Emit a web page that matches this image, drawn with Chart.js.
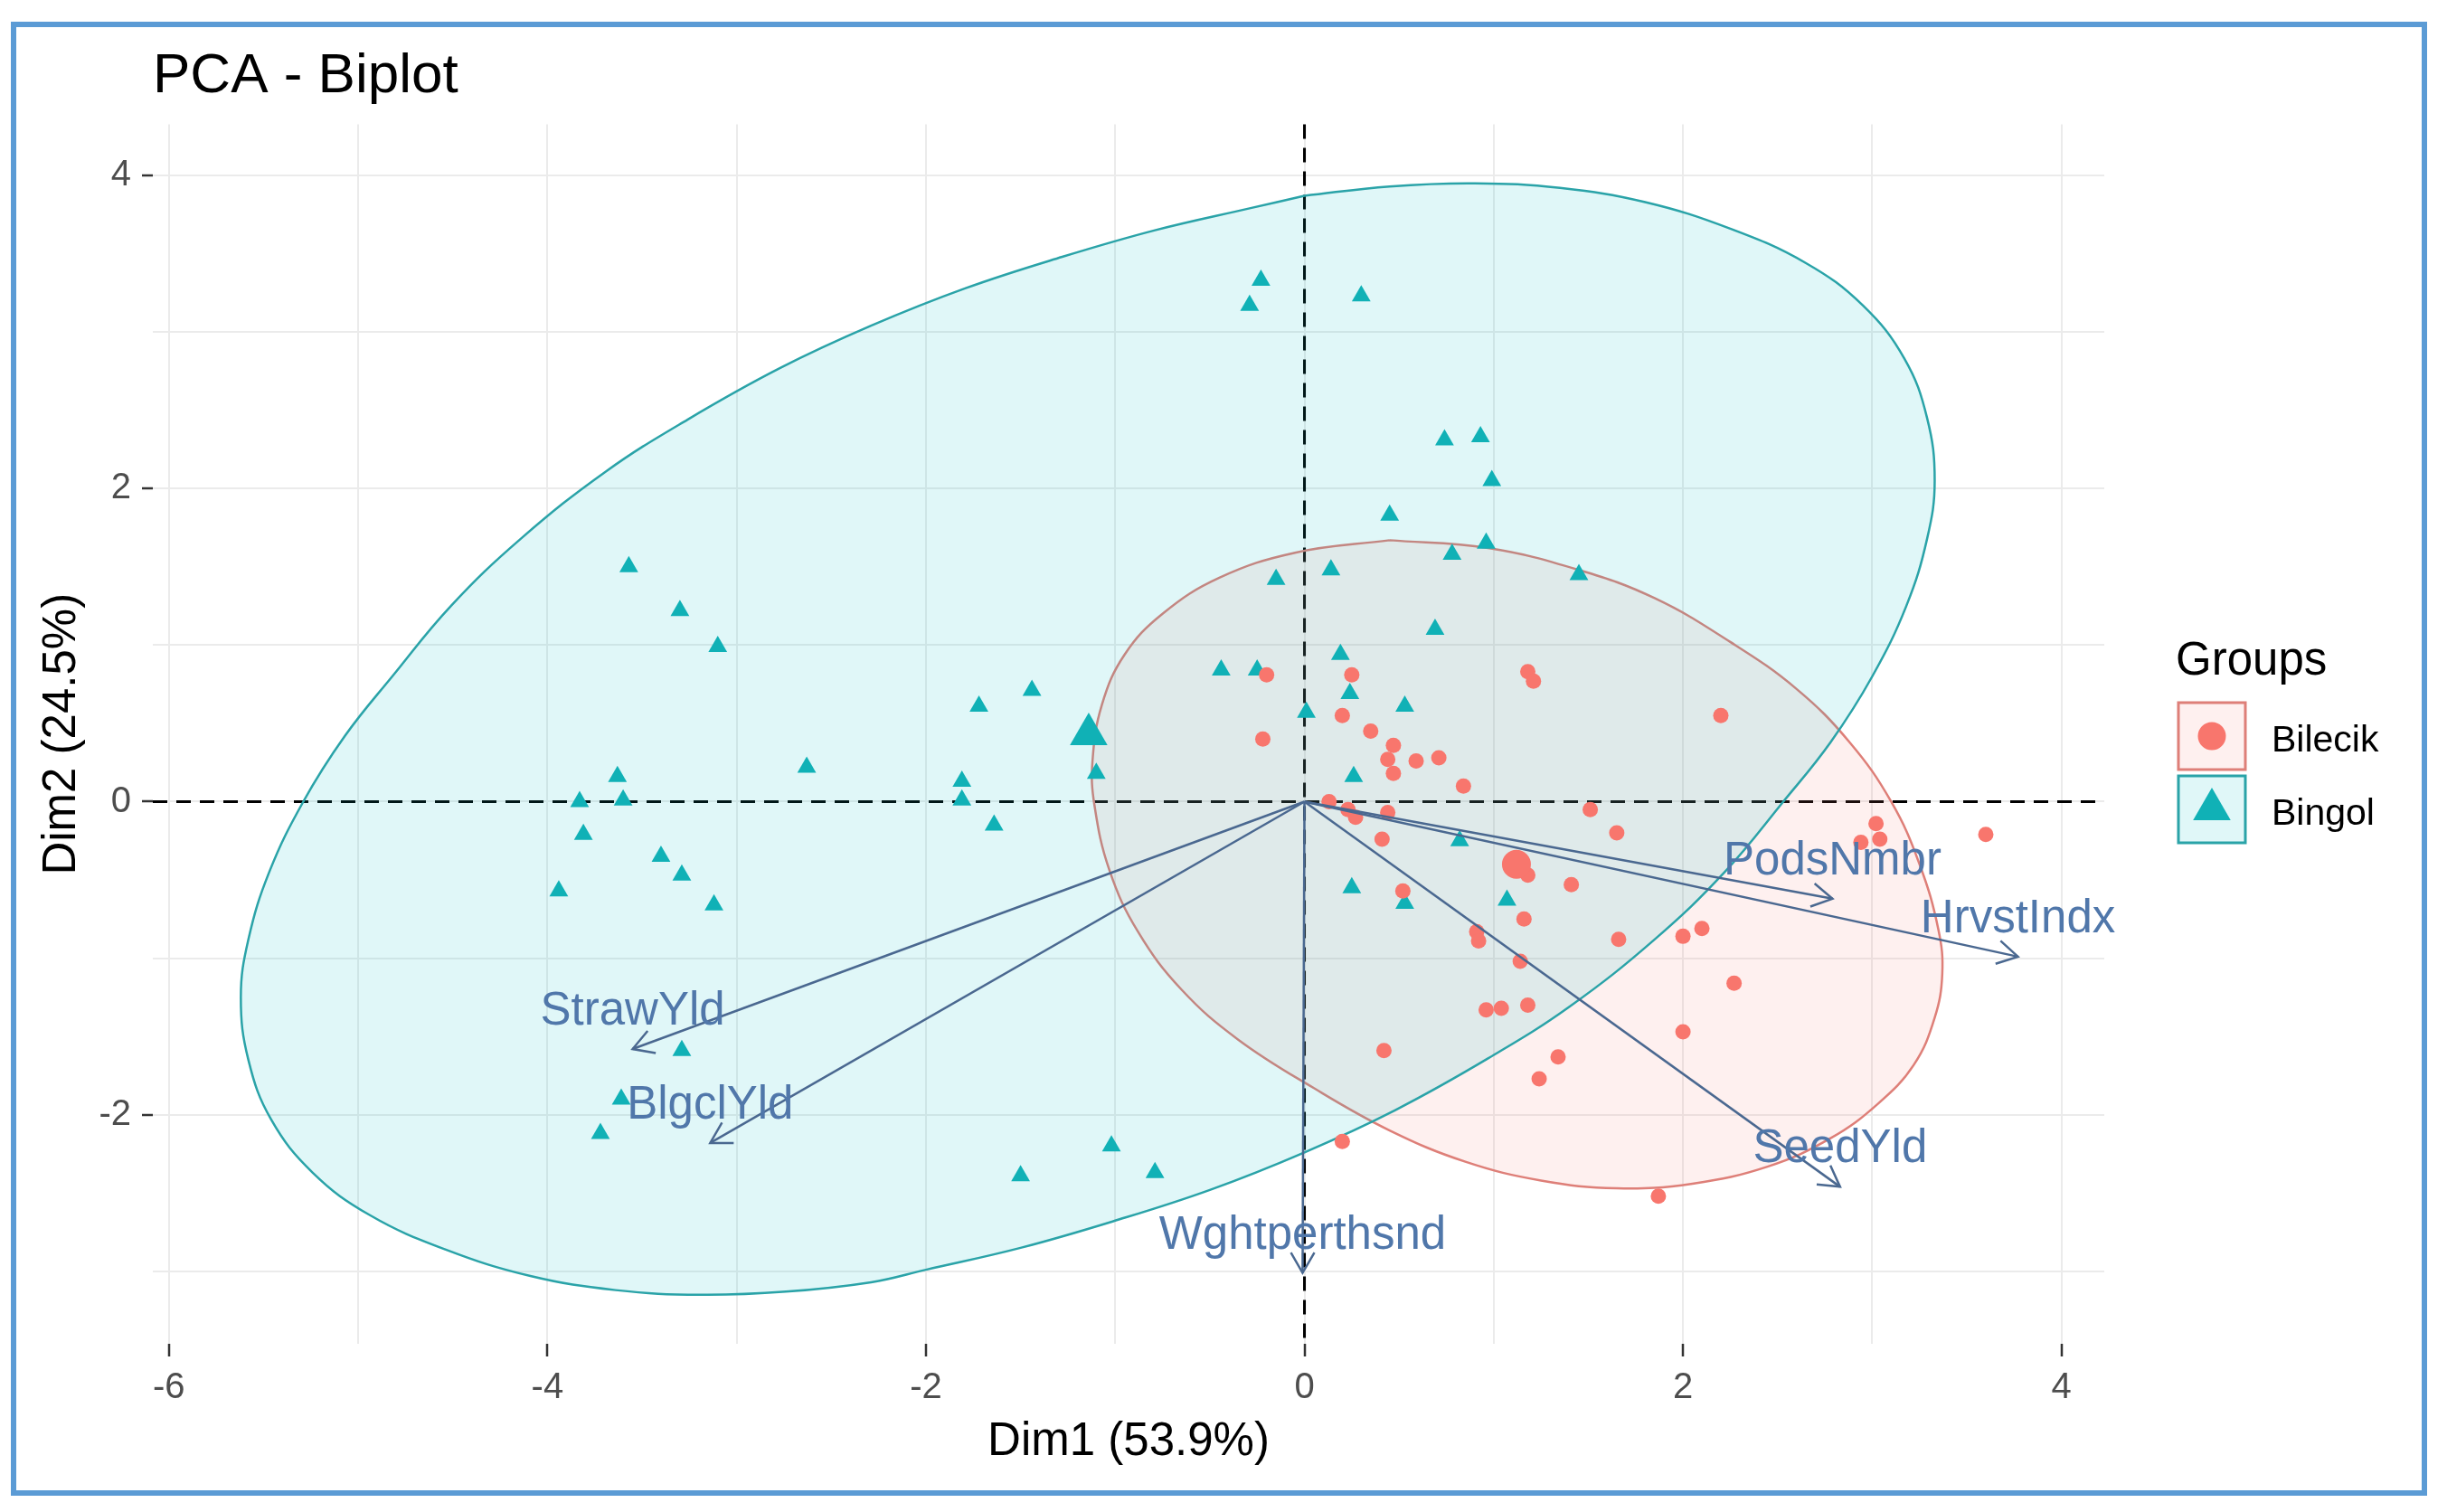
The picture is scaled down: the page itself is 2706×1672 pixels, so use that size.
<!DOCTYPE html>
<html>
<head>
<meta charset="utf-8">
<title>PCA - Biplot</title>
<script src="https://cdn.jsdelivr.net/npm/chart.js@4.4.1/dist/chart.umd.min.js"></script>
<style>
  html, body { margin: 0; padding: 0; background: #fff; overflow: hidden; }
  #wrap { position: relative; width: 2706px; height: 1672px; }
  #frame { position: absolute; left: 12px; top: 24px; width: 2672px; height: 1630px;
           border: 6px solid #5B9BD5; box-sizing: border-box; pointer-events: none; }
</style>
</head>
<body>
<div id="wrap">
  <canvas id="biplot"></canvas>
  <div id="frame"></div>
</div>
<script>
// --- データ ---
const groupNames = ["Bilecik", "Bingol"];

const bilecikX = [-0.20, 0.25, 1.18, 1.21, 0.20, -0.22, 0.35, 0.47, 0.44, 0.47, 0.59, 0.71, 0.84, 0.13, 0.23,
  0.27, 0.44, 0.41, 1.51, 1.65, 1.18, 1.41, 0.52, 1.16, 0.91, 0.92, 1.66, 1.14, 0.96, 1.04, 1.18,
  2.20, 3.02, 3.04, 2.94, 3.60, 2.00, 2.10, 2.27, 2.00, 1.87, 0.42, 1.34, 1.24, 0.20];
const bilecikY = [0.81, 0.81, 0.83, 0.77, 0.55, 0.40, 0.45, 0.36, 0.27, 0.18, 0.26, 0.28, 0.10, 0.00, -0.05,
  -0.10, -0.07, -0.24, -0.05, -0.20, -0.47, -0.53, -0.57, -0.75, -0.83, -0.89, -0.88, -1.02, -1.33, -1.32, -1.30,
  0.55, -0.14, -0.24, -0.26, -0.21, -0.86, -0.81, -1.16, -1.47, -2.52, -1.59, -1.63, -1.77, -2.17];

const bingolX = [-0.23, -0.29, 0.30, 0.74, 0.93, 0.99, 0.45, 0.96, 0.78, 1.45, -0.15, 0.14, 0.69, 0.19, -0.44,
  -0.25, 0.24, 0.53, 0.01, -1.44, -1.72, -1.10, -1.81, -1.81, -1.64, 0.26, 0.82, 0.25, 0.53, 1.07,
  -3.57, -3.30, -3.10, -2.63, -3.63, -3.83, -3.60, -3.81, -3.40, -3.29, -3.94, -3.12, -3.29, -3.61, -3.72,
  -1.02, -1.50, -0.79];
const bingolY = [3.33, 3.17, 3.23, 2.31, 2.33, 2.05, 1.83, 1.65, 1.58, 1.45, 1.42, 1.48, 1.10, 0.94, 0.84,
  0.84, 0.69, 0.61, 0.57, 0.71, 0.61, 0.18, 0.13, 0.01, -0.15, 0.16, -0.25, -0.55, -0.65, -0.63,
  1.50, 1.22, 0.99, 0.22, 0.16, 0.00, 0.01, -0.21, -0.35, -0.47, -0.57, -0.66, -1.59, -1.90, -2.12,
  -2.20, -2.39, -2.37];

// グループ平均 (大きいマーカー)
const meanX = [1.12, -1.14];
const meanY = [-0.40, 0.43];

// 変数ベクトル
const varNames = ["PodsNmbr", "HrvstIndx", "SeedYld", "Wghtperthsnd", "StrawYld", "BlgclYld"];
const varX = [2.79, 3.77, 2.83, -0.01, -3.55, -3.14];
const varY = [-0.62, -0.99, -2.46, -3.01, -1.58, -2.18];

// 楕円の輪郭 (画像からなぞった点, 時計回り)
const bilecikEllX = [0.45, 0.97, 1.45, 1.85, 2.25, 2.60, 2.88, 3.10, 3.25, 3.35, 3.37, 3.33, 3.22, 3.03, 2.78,
  2.45, 2.05, 1.65, 1.25, 0.85, 0.45, 0.05, -0.35, -0.65, -0.88, -1.03, -1.11, -1.12, -1.07, -0.95, -0.75,
  -0.45, -0.05];
const bilecikEllY = [1.67, 1.62, 1.48, 1.30, 1.02, 0.72, 0.38, 0.00, -0.40, -0.82, -1.10, -1.38, -1.68, -1.93, -2.15,
  -2.33, -2.44, -2.47, -2.42, -2.30, -2.10, -1.83, -1.52, -1.20, -0.83, -0.44, -0.02, 0.26, 0.62, 0.94, 1.20,
  1.43, 1.59];

const bingolEllX = [0.00, 0.45, 0.90, 1.35, 1.80, 2.25, 2.65, 2.95, 3.17, 3.29, 3.33, 3.29, 3.18, 3.00, 2.78,
  2.53, 2.22, 1.85, 1.40, 0.97, 0.48, 0.00, -0.50, -1.01, -1.50, -2.00, -2.29, -2.74, -3.19, -3.64,
  -4.09, -4.54, -4.94, -5.24, -5.46, -5.58, -5.62, -5.58, -5.47, -5.29, -5.07, -4.82, -4.51, -4.14, -3.69,
  -3.26, -2.77, -2.29, -1.79, -1.28, -0.79, -0.29];
const bingolEllY = [3.87, 3.93, 3.95, 3.92, 3.83, 3.66, 3.44, 3.17, 2.83, 2.45, 2.05, 1.68, 1.25, 0.80, 0.38,
  0.00, -0.45, -0.88, -1.31, -1.64, -1.97, -2.24, -2.48, -2.68, -2.85, -2.99, -3.07, -3.13, -3.15, -3.12,
  -3.03, -2.86, -2.64, -2.37, -2.03, -1.65, -1.25, -0.88, -0.45, 0.00, 0.42, 0.80, 1.25, 1.68, 2.11,
  2.44, 2.77, 3.04, 3.28, 3.48, 3.65, 3.79];

// --- スタイル ---
const FONT = "'Liberation Sans', Arial, sans-serif";
const RED = "#F8766D";
const TEAL = "#10B1B6";
const ARROW_COL = "#4A6890";
const LABEL_COL = "#5077AA";
const groupColors = [RED, TEAL];
const groupLines = ["#DE7F78", "#2AA3A8"];
const groupFills = ["rgba(248,118,109,0.11)", "rgba(0,191,196,0.12)"];

const toPts = (xs, ys) => xs.map((x, i) => ({ x: x, y: ys[i] }));

function ellipseSet(xs, ys, g, order) {
  const pts = toPts(xs, ys);
  pts.push(pts[0]);
  return {
    type: "line", data: pts, borderColor: groupLines[g], backgroundColor: groupFills[g],
    borderWidth: 2.5, fill: "shape", tension: 0.4, pointRadius: 0, order: order
  };
}

const datasets = [
  ellipseSet(bilecikEllX, bilecikEllY, 0, 6),
  ellipseSet(bingolEllX, bingolEllY, 1, 5),
  { type: "scatter", data: toPts(bilecikX, bilecikY), pointStyle: "circle", pointRadius: 8.5,
    pointBackgroundColor: RED, pointBorderWidth: 0, order: 3 },
  { type: "scatter", data: toPts(bingolX, bingolY), pointStyle: "triangle", pointRadius: 12,
    pointBackgroundColor: TEAL, pointBorderWidth: 0, order: 3 },
  { type: "scatter", data: [{ x: meanX[0], y: meanY[0] }], pointStyle: "circle", pointRadius: 16,
    pointBackgroundColor: RED, pointBorderWidth: 0, order: 2 },
  { type: "scatter", data: [{ x: meanX[1], y: meanY[1] }], pointStyle: "triangle", pointRadius: 24,
    pointBackgroundColor: TEAL, pointBorderWidth: 0, order: 2 }
];

varNames.forEach((name, i) => {
  datasets.push({
    type: "line", label: name, isArrow: true,
    data: [{ x: 0, y: 0 }, { x: varX[i], y: varY[i] }],
    borderColor: ARROW_COL, borderWidth: 2.5, pointRadius: 0, tension: 0, fill: false, order: 1
  });
});

// 原点の破線
const zeroLines = {
  id: "zeroLines",
  beforeDatasetsDraw(chart) {
    const { ctx, chartArea: a, scales } = chart;
    const px = scales.x.getPixelForValue(0);
    const py = scales.y.getPixelForValue(0);
    ctx.save();
    ctx.strokeStyle = "#000";
    ctx.lineWidth = 3;
    ctx.setLineDash([16, 10]);
    ctx.beginPath();
    ctx.moveTo(a.left, py); ctx.lineTo(a.right, py);
    ctx.moveTo(px, a.top); ctx.lineTo(px, a.bottom);
    ctx.stroke();
    ctx.restore();
  }
};

// 矢印の先端とラベル
const arrowHeads = {
  id: "arrowHeads",
  afterDatasetsDraw(chart) {
    const { ctx } = chart;
    ctx.save();
    chart.data.datasets.forEach((ds, i) => {
      if (!ds.isArrow) return;
      const pts = chart.getDatasetMeta(i).data;
      const o = pts[0], t = pts[1];
      const ang = Math.atan2(t.y - o.y, t.x - o.x);
      const len = 26;
      ctx.strokeStyle = ARROW_COL;
      ctx.lineWidth = 2.5;
      ctx.beginPath();
      ctx.moveTo(t.x - len * Math.cos(ang - Math.PI / 6), t.y - len * Math.sin(ang - Math.PI / 6));
      ctx.lineTo(t.x, t.y);
      ctx.lineTo(t.x - len * Math.cos(ang + Math.PI / 6), t.y - len * Math.sin(ang + Math.PI / 6));
      ctx.stroke();
      ctx.fillStyle = LABEL_COL;
      ctx.font = "51px " + FONT;
      ctx.textAlign = "center";
      ctx.textBaseline = "alphabetic";
      ctx.fillText(ds.label, t.x, t.y - 27);
    });
    ctx.restore();
  }
};

// 凡例 (Groups)
const groupLegend = {
  id: "groupLegend",
  afterDraw(chart) {
    const { ctx, chartArea: a } = chart;
    const left = a.right + 82;
    ctx.save();
    ctx.fillStyle = "#000";
    ctx.font = "51px " + FONT;
    ctx.textAlign = "left";
    ctx.textBaseline = "alphabetic";
    ctx.fillText("Groups", left - 3, 746);
    groupNames.forEach((g, i) => {
      const top = 777 + i * 81;
      const cx = left + 37, cy = top + 37;
      ctx.fillStyle = "#fff";
      ctx.fillRect(left, top, 74, 74);
      ctx.fillStyle = groupFills[i];
      ctx.fillRect(left, top, 74, 74);
      ctx.strokeStyle = groupLines[i];
      ctx.lineWidth = 3;
      ctx.strokeRect(left, top, 74, 74);
      ctx.fillStyle = groupColors[i];
      ctx.beginPath();
      if (i === 0) {
        ctx.arc(cx, cy, 15.5, 0, Math.PI * 2);
      } else {
        const r = 24;
        ctx.moveTo(cx, cy - r);
        ctx.lineTo(cx + r * Math.sin(2 * Math.PI / 3), cy + r / 2);
        ctx.lineTo(cx - r * Math.sin(2 * Math.PI / 3), cy + r / 2);
        ctx.closePath();
      }
      ctx.fill();
      ctx.fillStyle = "#000";
      ctx.font = "41px " + FONT;
      ctx.fillText(g, left + 103, cy + 17);
    });
    ctx.restore();
  }
};

const evenLabel = v => (Math.round(v) % 2 === 0 ? String(Math.round(v)) : "");
const tickMark = c => (Math.round(c.tick.value) % 2 === 0 ? "#333333" : "rgba(0,0,0,0)");

new Chart(document.getElementById("biplot"), {
  type: "scatter",
  data: { datasets: datasets },
  options: {
    responsive: true,
    maintainAspectRatio: false,
    animation: false,
    events: [],
    layout: { padding: { left: 0, right: 379, top: 33, bottom: 22 } },
    scales: {
      x: {
        type: "linear", min: -6.085, max: 4.226,
        afterFit: s => { s.height = 164; },
        border: { display: false },
        grid: { color: "#EBEBEB", lineWidth: 2, tickLength: 14, tickWidth: 2.5, tickColor: tickMark },
        ticks: { stepSize: 1, includeBounds: false, autoSkip: false, maxRotation: 0, padding: 11,
                 font: { size: 40, family: FONT }, color: "#4D4D4D", callback: evenLabel },
        title: { display: true, text: "Dim1 (53.9%)", color: "#000",
                 font: { size: 51, family: FONT }, padding: { top: 0, bottom: 24 } }
      },
      y: {
        type: "linear", min: -3.463, max: 4.327,
        afterFit: s => { s.width = 169; },
        border: { display: false },
        grid: { color: "#EBEBEB", lineWidth: 2, tickLength: 12, tickWidth: 2.5, tickColor: tickMark },
        ticks: { stepSize: 1, includeBounds: false, autoSkip: false, padding: 12,
                 font: { size: 40, family: FONT }, color: "#4D4D4D", callback: evenLabel },
        title: { display: true, text: "Dim2 (24.5%)", color: "#000",
                 font: { size: 51, family: FONT }, padding: { top: 38, bottom: 0 } }
      }
    },
    plugins: {
      legend: { display: false },
      tooltip: { enabled: false },
      title: { display: true, text: "PCA - Biplot", align: "start", fullSize: false, color: "#000",
               font: { size: 62, family: FONT, weight: "normal" }, padding: { top: 15, bottom: 15 } }
    }
  },
  plugins: [zeroLines, arrowHeads, groupLegend]
});
</script>
</body>
</html>
